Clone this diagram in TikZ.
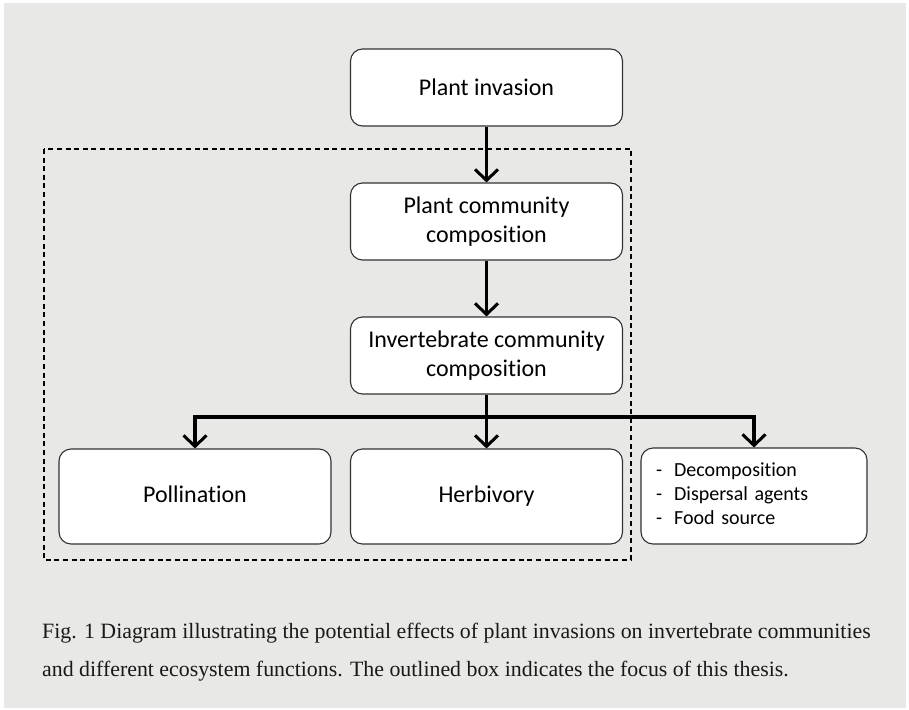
\documentclass[tikz,border=0pt]{standalone}
\usepackage{fontspec}
\setmainfont{Liberation Serif}
\newfontfamily\boxfont[Ligatures=NoCommon]{Carlito}
\usetikzlibrary{arrows.meta}
\definecolor{panelbg}{RGB}{232,232,230}
\definecolor{boxline}{RGB}{50,50,50}
\definecolor{captext}{RGB}{25,25,25}
\tikzset{
  flowbox/.style={draw=boxline, line width=1.1pt, fill=white, rounded corners=12pt,
    minimum width=272pt, minimum height=77pt, align=center, inner sep=2pt,
    font=\boxfont\fontsize{24}{29}\selectfont},
  flowarrow/.style={line width=3.6pt, -{Straight Barb[length=11pt,width=23pt,line width=3pt]}},
  focusbox/.style={line width=1.8pt, dash pattern=on 5pt off 3.6pt},
  captionline/.style={anchor=base west, inner sep=0pt, text=captext,
    font=\fontsize{21.85}{24}\selectfont}
}
\begin{document}
\begin{tikzpicture}[x=1pt,y=-1pt]
\useasboundingbox (0,0) rectangle (909,709);
\fill[white] (0,0) rectangle (909,709);
\fill[panelbg] (4,3) rectangle (906,708);
% dashed focus outline
\draw[focusbox] (44,149) rectangle (631,560);
% boxes
\node[flowbox] (inv) at (486.5,87.5) {Plant invasion};
\node[flowbox] (pcc) at (486.5,221.5) {Plant community\\composition};
\node[flowbox] (icc) at (486.5,355.5) {Invertebrate community\\composition};
\node[flowbox, minimum height=95pt, text height=17pt, text depth=5pt] (poll) at (195,496.5) {Pollination};
\node[flowbox, minimum height=95pt, text height=17pt, text depth=5pt] (herb) at (486.5,496.5) {Herbivory};
\node[flowbox, minimum width=226pt, minimum height=96pt, text width=196pt, align=left,
      inner xsep=15pt, font=\boxfont\fontsize{20}{24}\selectfont] (other) at (754,496)
  {\begin{tabular}{@{}l@{\hspace{12pt}}l@{}}
   - & Decomposition\\
   - & Dispersal agents\\
   - & Food source
   \end{tabular}};
\coordinate (j) at (486.5,417);
% connectors
\draw[flowarrow] (inv.south) -- (pcc.north);
\draw[flowarrow] (pcc.south) -- (icc.north);
\draw[flowarrow] (icc.south) -- (herb.north);
\draw[flowarrow] (j) -| (poll.north);
\draw[flowarrow] (j) -| (other.north);
% caption
\node[captionline] (cap1) at (42,638) {Fig. 1 Diagram illustrating the potential effects of plant invasions on invertebrate communities};
\node[captionline] (cap2) at (42,676) {and different ecosystem functions. The outlined box indicates the focus of this thesis.};
\end{tikzpicture}
\end{document}
